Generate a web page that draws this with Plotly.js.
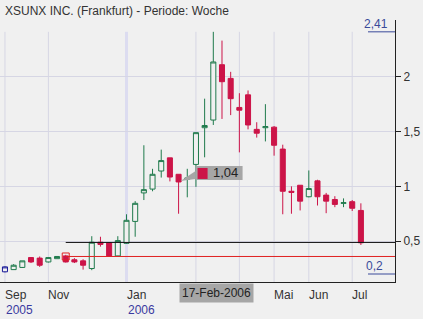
<!DOCTYPE html>
<html><head><meta charset="utf-8">
<script src="https://cdn.plot.ly/plotly-3.0.1.min.js"></script>
<style>html,body{margin:0;padding:0;background:#f0f0f0;}#chart{width:423px;height:319px;}</style>
</head><body><div id="chart"></div>
<script>
// Weekly data (Fridays)
const weeks = ['2005-09-30','2005-10-07','2005-10-14','2005-10-21','2005-10-28','2005-11-04','2005-11-11','2005-11-18','2005-11-25','2005-12-02','2005-12-09','2005-12-16','2005-12-23','2005-12-30','2006-01-06','2006-01-13','2006-01-20','2006-01-27','2006-02-03','2006-02-10','2006-02-17','2006-02-24','2006-03-03','2006-03-10','2006-03-17','2006-03-24','2006-03-31','2006-04-07','2006-04-14','2006-04-21','2006-04-28','2006-05-05','2006-05-12','2006-05-19','2006-05-26','2006-06-02','2006-06-09','2006-06-16','2006-06-23','2006-06-30','2006-07-07','2006-07-14'];
const openV  = [0.22,0.24,0.26,0.35,0.345,0.31,0.34,0.365,0.33,0.32,0.25,0.49,0.485,0.365,0.48,0.68,0.94,0.975,1.14,1.26,1.11,1.065,1.2,1.535,1.605,2.11,1.985,1.72,1.835,1.52,1.535,1.54,1.34,0.955,1.01,0.905,1.05,0.92,0.88,0.845,0.86,0.78];
const highV  = [0.27,0.29,0.32,0.355,0.36,0.355,0.36,0.375,0.345,0.335,0.545,0.54,0.49,0.545,0.745,0.865,1.375,1.16,1.335,1.26,1.11,1.16,1.49,1.8,2.41,2.33,2.045,1.85,1.875,1.585,1.75,1.55,1.38,1.0,1.01,1.145,1.06,0.94,0.91,0.89,0.875,0.845];
const lowV   = [0.215,0.24,0.255,0.30,0.265,0.305,0.34,0.305,0.30,0.24,0.235,0.45,0.36,0.36,0.475,0.54,0.875,0.955,1.08,1.045,0.75,0.9,0.995,1.265,1.56,1.615,1.65,1.31,1.52,1.445,1.41,1.28,0.745,0.75,0.78,0.9,0.825,0.755,0.81,0.81,0.775,0.465];
const closeV = [0.265,0.28,0.32,0.31,0.28,0.35,0.36,0.31,0.31,0.28,0.49,0.47,0.365,0.505,0.69,0.845,0.97,1.11,1.235,1.085,1.04,1.075,1.49,1.555,2.135,1.955,1.8,1.695,1.56,1.485,1.545,1.375,0.955,0.945,0.865,0.98,0.905,0.865,0.835,0.85,0.8,0.485];

// Month gridlines / labels
const gridDates  = ['2005-09-30','2005-11-04','2006-01-06','2006-03-03','2006-04-07','2006-05-05','2006-06-02','2006-07-07'];
const monthDates = ['2005-09-30','2005-11-04','2006-01-06','2006-05-05','2006-06-02','2006-07-07'];
const monthLabels = ['Sep','Nov','Jan','Mai','Jun','Jul'];
const yearDates = ['2005-09-30','2006-01-06'];
const yearLabels = ['2005','2006'];
const yTicks = [0.5, 1, 1.5, 2];

// Reference levels
const maxLabel = '2,41', maxLevel = 2.41;
const minLabel = '0,2', minLevel = 0.2;
const blackLevel = 0.488, redLevel = 0.36, levelStartIdx = 7;
const markIdx = 20; // 17-Feb-2006
const markText = '1,04';
const markDateText = '17-Feb-2006';

const xRange = ['2005-09-26', '2006-08-10 12:00'];
const yRange = [0.127, 2.518];

const W = 395, T = 20, H = 262;
const t0 = Date.parse('2005-09-26T00:00:00Z'), t1 = Date.parse('2006-08-10T12:00:00Z');
const xpx = d => (Date.parse(d + 'T00:00:00Z') - t0) / (t1 - t0) * W;
const ypx = v => T + (yRange[1] - v) / (yRange[1] - yRange[0]) * H;
const yval = p => yRange[1] - (p - T) / H * (yRange[1] - yRange[0]);

const red = '#cc1448', green = '#1f7a4c', bg = '#f0f0f0';
const FONT = 'Liberation Sans, Arial, sans-serif';

const traces = [
  {type:'candlestick', x:weeks.slice(1), open:openV.slice(1), high:highV.slice(1), low:lowV.slice(1), close:closeV.slice(1),
   increasing:{line:{color:green,width:1}, fillcolor:bg},
   decreasing:{line:{color:red,width:1}, fillcolor:red},
   whiskerwidth:0, showlegend:false, hoverinfo:'skip'},
  {type:'candlestick', x:weeks.slice(0,1), open:openV.slice(0,1), high:highV.slice(0,1), low:lowV.slice(0,1), close:closeV.slice(0,1),
   increasing:{line:{color:'#1a1a99',width:1}, fillcolor:bg},
   decreasing:{line:{color:'#1a1a99',width:1}, fillcolor:bg},
   whiskerwidth:0, showlegend:false, hoverinfo:'skip'},
  {type:'scatter', mode:'markers', x:[weeks[levelStartIdx]], y:[redLevel],
   marker:{symbol:'square-open', size:7, color:'#e02020', line:{width:1}}, showlegend:false, hoverinfo:'skip'}
];

const shapes = [];
gridDates.forEach(d => {
  const isYear = d.slice(5,7) === '01';
  shapes.push({type:'line', xref:'x', yref:'y', x0:d, x1:d, y0:yRange[0], y1:maxLevel, layer:'below',
    line:{color: isYear ? '#dcdcf0' : '#d6d6e4', width: isYear ? 3 : 1}});
});
shapes.push({type:'line', xref:'x', yref:'y', x0:weeks[levelStartIdx], x1:xRange[1], y0:redLevel, y1:redLevel, line:{color:'#e02020', width:1}});
shapes.push({type:'line', xref:'x', yref:'y', x0:weeks[levelStartIdx], x1:xRange[1], y0:blackLevel, y1:blackLevel, line:{color:'#111', width:1}});
shapes.push({type:'line', xref:'paper', yref:'y', x0:368/W, x1:1, y0:maxLevel, y1:maxLevel, line:{color:'#3a4a9a', width:1}});
shapes.push({type:'line', xref:'paper', yref:'y', x0:368/W, x1:1, y0:minLevel, y1:minLevel, line:{color:'#3a4a9a', width:1}});

// callout for marked candle
const cx = xpx(weeks[markIdx]), cy = ypx(closeV[markIdx]);
const px2p = p => p / W;
shapes.push({type:'path', xref:'paper', yref:'y', fillcolor:'#a6a6a6', line:{width:0},
  path:`M ${px2p(cx+2)},${yval(cy-1)} L ${px2p(cx+17)},${yval(cy-11)} L ${px2p(cx+17)},${yval(cy-3)} Z`});
shapes.push({type:'rect', xref:'paper', yref:'y', x0:px2p(cx+17), x1:px2p(cx+64), y0:yval(cy-16), y1:yval(cy-2),
  fillcolor:'#a6a6a6', line:{width:0}});
shapes.push({type:'rect', xref:'paper', yref:'y', x0:px2p(cx+19), x1:px2p(cx+29), y0:yval(cy-14), y1:yval(cy-3),
  fillcolor:red, line:{width:0}});

const annotations = [];
monthDates.forEach((d,i) => annotations.push({xref:'x', yref:'paper', x:d, y:0, xanchor:'left', yanchor:'middle',
  xshift:-2, yshift:-13, text:monthLabels[i], showarrow:false, font:{family:FONT, size:12, color:'#333'}}));
yearDates.forEach((d,i) => annotations.push({xref:'x', yref:'paper', x:d, y:0, xanchor:'left', yanchor:'middle',
  xshift:-1, yshift:-28, text:yearLabels[i], showarrow:false, font:{family:FONT, size:12, color:'#3a3aa0'}}));
annotations.push({xref:'x', yref:'paper', x:weeks[markIdx], y:0, xanchor:'left', yanchor:'top', xshift:0, yshift:-1,
  text:markDateText, showarrow:false, bgcolor:'#a6a6a6', borderpad:2, font:{family:FONT, size:12, color:'#222'}});
annotations.push({xref:'paper', yref:'y', x:px2p(cx+32), y:yval(cy-9), xanchor:'left', yanchor:'middle',
  text:markText, showarrow:false, font:{family:FONT, size:13, color:'#222'}});
annotations.push({xref:'paper', yref:'y', x:390/W, y:maxLevel, xanchor:'right', yanchor:'bottom', yshift:-1,
  text:maxLabel, showarrow:false, font:{family:FONT, size:12, color:'#3a4a9a'}});
annotations.push({xref:'paper', yref:'y', x:385/W, y:minLevel, xanchor:'right', yanchor:'bottom', yshift:-1,
  text:minLabel, showarrow:false, font:{family:FONT, size:12, color:'#3a4a9a'}});

const layout = {
  width:423, height:319,
  margin:{l:0, r:28, t:20, b:37},
  paper_bgcolor:bg, plot_bgcolor:bg,
  separators:',.',
  boxmode:'overlay', boxgap:0.42, boxgroupgap:0,
  title:{text:'XSUNX INC. (Frankfurt) - Periode: Woche', xref:'container', yref:'container', x:5/423, xanchor:'left',
    y:1-11/319, yanchor:'middle', font:{family:FONT, size:12, color:'#333'}},
  xaxis:{type:'date', range:xRange, showgrid:false, zeroline:false, showticklabels:false, ticks:'',
    showline:true, linecolor:'#222', linewidth:1, rangeslider:{visible:false}, fixedrange:true},
  yaxis:{side:'right', range:yRange, tickvals:yTicks, ticks:'outside', ticklen:5, tickcolor:'#222',
    showline:true, linecolor:'#222', linewidth:1, showgrid:true, gridcolor:'#d6d6e4', zeroline:false,
    tickfont:{family:FONT, size:12, color:'#333'}, fixedrange:true},
  shapes, annotations, hovermode:false
};

Plotly.newPlot('chart', traces, layout, {staticPlot:true, displayModeBar:false});
</script>
</body></html>
